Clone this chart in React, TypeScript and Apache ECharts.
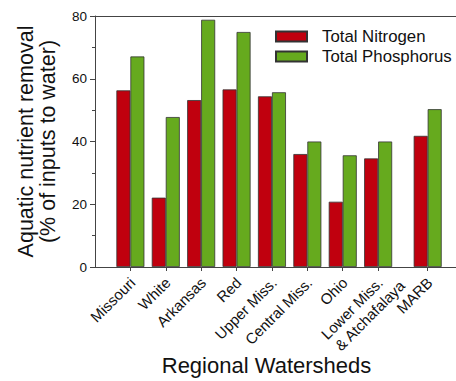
import React, { useEffect, useRef } from "react";
import * as echarts from "echarts";

const categories = [
  "Missouri",
  "White",
  "Arkansas",
  "Red",
  "Upper Miss.",
  "Central Miss.",
  "Ohio",
  "Lower Miss.\n& Atchafalaya",
  "MARB",
];
// category positions along the original numeric x scale (MARB set apart)
const categoryPositions = [1, 2, 3, 4, 5, 6, 7, 8, 9.4];
const nitrogen = [56.3, 22.1, 53.2, 56.6, 54.4, 36.0, 20.8, 34.6, 41.8];
const phosphorus = [67.1, 47.8, 78.8, 74.9, 55.7, 40.0, 35.6, 40.0, 50.3];
const yTicks = [0, 20, 40, 60, 80];

const FONT = "'Liberation Sans', Arial, Helvetica, sans-serif";

export default function App() {
  const ref = useRef<HTMLDivElement>(null);
  useEffect(() => {
    if (!ref.current) return;
    const chart = echarts.init(ref.current, undefined, { renderer: "svg" });
    const axisColor = "#444";
    chart.setOption({
      animation: false,
      textStyle: { fontFamily: FONT },
      grid: { left: 95, right: 0, top: 16, bottom: 112 },
      legend: {
        orient: "vertical",
        left: 275,
        top: 28,
        padding: 0,
        icon: "rect",
        itemWidth: 31,
        itemHeight: 10,
        itemGap: 3,
        textStyle: { fontSize: 16.8, color: "#111", fontFamily: FONT, padding: [0, 0, 0, 10] },
        data: ["Total Nitrogen", "Total Phosphorus"],
      },
      xAxis: [
        {
          type: "value",
          min: 0,
          max: 10.2,
          name: "Regional Watersheds",
          nameLocation: "middle",
          nameGap: 87,
          nameTextStyle: { fontSize: 22, color: "#111", padding: [0, 18, 0, 0] },
          splitLine: { show: false },
          axisLine: { show: true, lineStyle: { color: axisColor, width: 1 } },
          axisTick: {
            show: true,
            customValues: categoryPositions,
            length: 4,
            lineStyle: { color: axisColor },
          },
          axisLabel: { show: false },
        },
        {
          type: "value",
          position: "top",
          min: 0,
          max: 10.2,
          splitLine: { show: false },
          axisLine: { show: true, onZero: false, lineStyle: { color: axisColor, width: 1 } },
          axisTick: { show: false },
          axisLabel: { show: false },
        },
      ],
      yAxis: {
        type: "value",
        min: 0,
        max: 80,
        interval: 20,
        name: "Aquatic nutrient removal\n(% of inputs to water)",
        nameLocation: "middle",
        nameGap: 36,
        nameTextStyle: { fontSize: 21.5, color: "#111", lineHeight: 22 },
        splitLine: { show: false },
        axisLine: { show: true, lineStyle: { color: axisColor, width: 1 } },
        axisTick: { show: true, length: 5, lineStyle: { color: axisColor } },
        minorTick: { show: true, splitNumber: 2, length: 3, lineStyle: { color: axisColor } },
        axisLabel: {
          fontSize: 13.5,
          color: "#111",
          margin: 8,
          customValues: yTicks,
        },
      },
      series: [
        {
          name: "Total Nitrogen",
          type: "bar",
          barWidth: 14,
          barGap: "0%",
          itemStyle: { color: "#c0000e", borderColor: "#333", borderWidth: 0.8 },
          data: categoryPositions.map((p, i) => [p, nitrogen[i]]),
        },
        {
          name: "Total Phosphorus",
          type: "bar",
          barWidth: 14,
          barGap: "0%",
          itemStyle: { color: "#66aa1e", borderColor: "#333", borderWidth: 0.8 },
          data: categoryPositions.map((p, i) => [p, phosphorus[i]]),
        },
        {
          name: "labels",
          type: "custom",
          silent: true,
          clip: false,
          encode: { x: 0, y: 1 },
          data: categoryPositions.map((p, i) => [p, 0, i]),
          renderItem: (_params: any, api: any) => {
            const pt = api.coord([api.value(0), 0]);
            const idx = api.value(2);
            const lines = categories[idx].split("\n");
            return {
              type: "group",
              x: pt[0] + 2,
              y: pt[1] + 13,
              rotation: Math.PI / 4,
              children: lines.map((line, k) => ({
                type: "text",
                x: k * 13.4,
                y: k * 17.7,
                style: {
                  text: line,
                  fontSize: 15,
                  fontFamily: FONT,
                  fill: "#111",
                  align: "right",
                  verticalAlign: "middle",
                },
              })),
            };
          },
        },
      ],
    });
    return () => chart.dispose();
  }, []);
  return (
    <div
      ref={ref}
      style={{ position: "absolute", left: 0, top: 0, width: 456, height: 381 }}
    />
  );
}
